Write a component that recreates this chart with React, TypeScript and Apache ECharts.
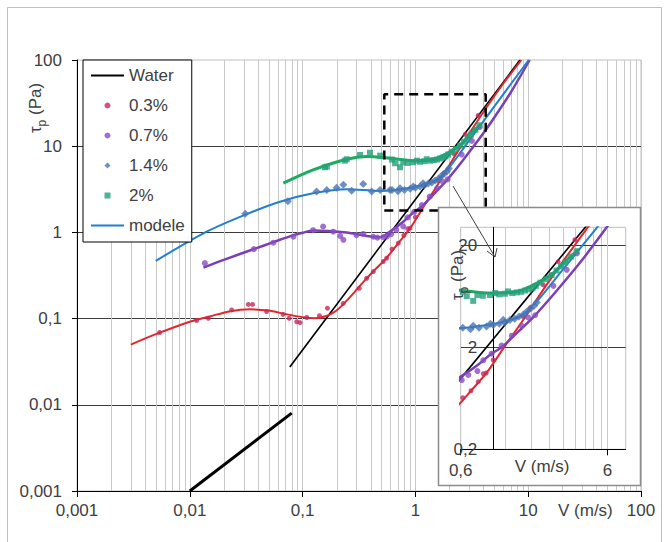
import React, { useEffect, useRef } from 'react';
import * as echarts from 'echarts';

const FONT = '"Liberation Sans", Arial, Helvetica, sans-serif';
const TXT = '#404040';

// ---- main axes ----
const X_MIN = 0.001;
const X_MAX = 100;
const Y_MIN = 0.001;
const Y_MAX = 100;
const xTickLabels = ['0,001', '0,01', '0,1', '1', '10', '100'];
const yTickLabels = ['0,001', '0,01', '0,1', '1', '10', '100'];

// ---- inset axes ----
const insetXTicks = [0.6, 6];
const insetXLabels = ['0,6', '6'];
const INSET_X_MAX = 8;
const insetYTicks = [0.2, 2, 20];
const insetYLabels = ['0,2', '2', '20'];
const INSET_Y_MAX = 30;
const INSET_Y_AXIS_AT = 1;

// ---- water ----
const waterTurbV = [0.077, 8.45];
const waterTurbTau = [0.0274, 100];
const waterLamV = [0.01, 0.08];
const waterLamTau = [0.001, 0.008];

// ---- 0.3 % ----
const mod03V = [0.003, 0.005, 0.01, 0.015, 0.023, 0.034, 0.05, 0.07, 0.1, 0.13, 0.165, 0.2, 0.25, 0.34, 0.42, 0.55, 0.7, 0.9, 1.2, 1.6, 2.2, 3, 4.3, 6, 8.7];
const mod03Tau = [0.05, 0.066, 0.092, 0.106, 0.122, 0.128, 0.124, 0.113, 0.104, 0.101, 0.108, 0.124, 0.165, 0.26, 0.35, 0.5, 0.74, 1.12, 2.05, 3.7, 7.4, 14, 28.5, 53, 100];
const pts03V = [0.0054, 0.0115, 0.0146, 0.0235, 0.033, 0.036, 0.048, 0.067, 0.076, 0.0887, 0.095, 0.109, 0.141, 0.166, 0.229, 0.318, 0.37, 0.424, 0.519, 0.556, 0.62, 0.705, 0.79, 0.855, 0.895, 1.0, 1.6, 1.79, 2.19, 2.77, 3.6];
const pts03Tau = [0.069, 0.095, 0.101, 0.126, 0.146, 0.146, 0.121, 0.112, 0.101, 0.092, 0.09, 0.103, 0.108, 0.132, 0.15, 0.225, 0.294, 0.351, 0.46, 0.502, 0.64, 0.75, 0.92, 1.1, 1.12, 1.5, 4.0, 4.9, 8.2, 13.8, 22.7];

// ---- 0.7 % ----
const mod07V = [0.0132, 0.02, 0.0366, 0.055, 0.077, 0.1, 0.124, 0.17, 0.246, 0.37, 0.486, 0.6, 0.78, 0.957, 1.14, 1.5, 1.89, 2.6, 3.74, 4.94, 7, 10.3];
const mod07Tau = [0.39, 0.48, 0.638, 0.77, 0.9, 0.99, 1.05, 1.04, 0.995, 0.91, 0.88, 1.03, 1.33, 1.7, 2.0, 2.9, 4.0, 6.7, 12.5, 21, 42, 100];
const pts07V = [0.0136, 0.037, 0.055, 0.083, 0.124, 0.152, 0.187, 0.215, 0.23, 0.3, 0.345, 0.424, 0.46, 0.519, 0.56, 0.61, 0.676, 0.78, 0.855, 0.975, 1.14, 1.34, 1.56, 1.73, 1.93, 2.57, 3.17, 3.71];
const pts07Tau = [0.44, 0.64, 0.76, 0.89, 1.06, 1.17, 1.02, 0.91, 0.82, 0.93, 0.96, 0.89, 0.87, 0.88, 0.9, 0.955, 1.07, 1.17, 1.49, 1.73, 2.08, 2.6, 3.25, 3.92, 4.12, 8.0, 11.5, 16.6];

// ---- 1.4 % ----
const mod14V = [0.005, 0.0141, 0.0308, 0.063, 0.124, 0.246, 0.485, 0.957, 1.45, 1.7, 2.0, 2.4, 2.86, 4.33, 6.5, 10.1];
const mod14Tau = [0.468, 1.02, 1.6, 2.27, 2.84, 3.17, 3.03, 3.35, 3.9, 4.5, 5.7, 7.8, 10.7, 22.3, 46, 100];
const pts14V = [0.031, 0.074, 0.133, 0.164, 0.2, 0.23, 0.272, 0.345, 0.41, 0.486, 0.595, 0.62, 0.7, 0.73, 0.8, 0.9, 0.957, 1.0, 1.1, 1.17, 1.2, 1.3, 1.4, 1.5, 1.6, 1.7, 1.8, 1.9, 1.98];
const pts14Tau = [1.65, 2.3, 2.98, 3.11, 3.3, 3.56, 3.05, 3.65, 2.98, 3.11, 3.11, 3.1, 3.0, 3.25, 3.1, 3.2, 3.4, 3.3, 3.4, 3.72, 3.5, 3.7, 3.8, 4.0, 4.2, 4.5, 4.8, 5.1, 5.5];

// ---- 2 % ----
const mod2V = [0.0675, 0.124, 0.246, 0.37, 0.596, 0.957, 1.35, 1.6, 2.08, 2.57, 3.17, 3.8];
const mod2Tau = [3.72, 5.3, 7.06, 7.57, 7.24, 6.8, 6.9, 7.35, 8.8, 10.7, 14.3, 18];
const pts2V = [0.158, 0.164, 0.237, 0.246, 0.323, 0.396, 0.486, 0.62, 0.66, 0.73, 0.78, 0.85, 0.95, 1.03, 1.1, 1.2, 1.26, 1.35, 1.45, 1.55, 1.65, 1.75, 1.85, 1.95, 2.1, 2.3, 2.5, 2.7, 2.9, 3.1, 3.4, 3.7];
const pts2Tau = [5.7, 5.8, 6.8, 7.06, 7.9, 8.4, 7.77, 7.0, 6.34, 5.7, 6.5, 6.4, 6.5, 6.8, 6.6, 6.7, 7.06, 6.8, 6.9, 7.0, 7.2, 7.4, 7.6, 8.0, 8.6, 9.3, 10.2, 11.3, 12.4, 13.6, 15.5, 17.5];

// ---- zoom box on the main chart ----
const zoomBoxV = [0.53, 4.2];
const zoomBoxTau = [1.8, 40];

const LINE_ICON = 'path://M0,0L33,0L33,2L0,2Z';
const DIAMOND_ICON = 'path://M4,0L8,4L4,8L0,4Z';
const SQUARE_ICON = 'path://M0,0L8,0L8,8L0,8Z';
const legendItems = [
  { name: 'Water', icon: LINE_ICON },
  { name: '0.3%', icon: 'circle' },
  { name: '0.7%', icon: 'circle' },
  { name: '1.4%', icon: DIAMOND_ICON },
  { name: '2%', icon: SQUARE_ICON },
  { name: 'modele', icon: LINE_ICON },
];

const pairs = (xs: number[], ys: number[]) => xs.map((x, i) => [x, ys[i]]);
const toInset = (xs: number[], ys: number[]) =>
  xs.map((x, i) => [Math.log10(x / insetXTicks[0]), Math.log10(ys[i] / insetYTicks[0])]);

function buildOption() {
  const MAIN = { left: 77, top: 60, width: 564, height: 431 };
  const INS = { left: 460.7, top: 227.3, width: 165, height: 222 };
  const insXMax = Math.log10(INSET_X_MAX / insetXTicks[0]);
  const insYMax = Math.log10(INSET_Y_MAX / insetYTicks[0]);
  const insYAxisOffset = (INS.width * Math.log10(INSET_Y_AXIS_AT / insetXTicks[0])) / insXMax;

  const mainMinor: number[][] = [];
  for (let e = Math.round(Math.log10(X_MIN)); e < Math.round(Math.log10(X_MAX)); e++) {
    for (let k = 2; k <= 9; k++) mainMinor.push([k * Math.pow(10, e), Y_MIN]);
  }
  const insMinor: number[][] = [];
  for (let k = 2; k <= 9; k++) insMinor.push([Math.log10(k), 0]);

  const labelStyle = { fontSize: 17, color: TXT, fontFamily: FONT };
  const logFmt = (labels: string[], min: number) => (v: number) =>
    labels[Math.round(Math.log10(v)) - Math.round(Math.log10(min))] ?? '';
  const intFmt = (labels: string[]) => (v: number) => {
    const k = Math.round(v);
    return Math.abs(v - k) < 1e-6 ? labels[k] ?? '' : '';
  };

  const line = (name: string, xs: number[], ys: number[], color: string, width: number, idx: number, smooth: number | boolean = false) => ({
    type: 'line',
    name,
    data: idx === 0 ? pairs(xs, ys) : toInset(xs, ys),
    xAxisIndex: idx,
    yAxisIndex: idx,
    symbol: 'none',
    smooth,
    clip: true,
    silent: true,
    lineStyle: { color, width },
    itemStyle: { color },
    z: idx === 0 ? 3 : 13,
    emphasis: { disabled: true },
  });
  const scatter = (name: string, xs: number[], ys: number[], color: string, symbol: string, size: number, idx: number) => ({
    type: 'scatter',
    name,
    data: idx === 0 ? pairs(xs, ys) : toInset(xs, ys),
    xAxisIndex: idx,
    yAxisIndex: idx,
    symbol,
    symbolSize: size,
    clip: true,
    silent: true,
    itemStyle: { color },
    z: idx === 0 ? 4 : 14,
    emphasis: { disabled: true },
  });

  const C = {
    red: '#e3262b', redPt: '#c42a5c',
    pur: '#7b3fb5', purPt: '#8a4cc2',
    blue: '#1f7fd1', bluePt: '#4a76b5',
    green: '#19ad5d', greenPt: '#24a07a',
  };

  const dataSeries = (idx: number) => [
    line('Water', waterTurbV, waterTurbTau, '#000', 1.6, idx),
    line('Water (laminar)', waterLamV, waterLamTau, '#000', 3, idx),
    line('modele 0.3%', mod03V, mod03Tau, C.red, 2, idx, 0.3),
    line('modele 0.7%', mod07V, mod07Tau, C.pur, 2.5, idx, 0.3),
    line('modele', mod14V, mod14Tau, C.blue, 2, idx, 0.3),
    line('modele 2%', mod2V, mod2Tau, C.green, 3, idx, 0.3),
    scatter('0.3%', pts03V, pts03Tau, C.redPt, 'circle', 5, idx),
    scatter('0.7%', pts07V, pts07Tau, C.purPt, 'circle', 6, idx),
    scatter('1.4%', pts14V, pts14Tau, C.bluePt, 'diamond', 8, idx),
    scatter('2%', pts2V, pts2Tau, C.greenPt, 'rect', 6, idx),
  ];

  const minorLine = (idx: number, pts: number[][], yLo: number, yHi: number) => ({
    type: 'custom',
    name: '_grid' + idx,
    xAxisIndex: idx,
    yAxisIndex: idx,
    silent: true,
    z: idx === 0 ? 1 : 11,
    data: pts,
    encode: { x: 0, y: 1 },
    renderItem: (_p: any, api: any) => {
      const v = api.value(0);
      const a = api.coord([v, yLo]);
      const b = api.coord([v, yHi]);
      const x = Math.round(a[0]) + 0.5;
      return {
        type: 'line',
        shape: { x1: x, y1: a[1], x2: x, y2: b[1] },
        style: { stroke: '#c8c8c8', lineWidth: 1 },
      };
    },
  });

  const boxX = [zoomBoxV[0], zoomBoxV[1], zoomBoxV[1], zoomBoxV[0], zoomBoxV[0]];
  const boxY = [zoomBoxTau[0], zoomBoxTau[0], zoomBoxTau[1], zoomBoxTau[1], zoomBoxTau[0]];

  const titleRich = (size: number) => ({
    a: { fontSize: size, fontFamily: FONT, fill: TXT },
    b: { fontSize: Math.round(size * 0.7), fontFamily: FONT, fill: TXT, verticalAlign: 'bottom', padding: [0, 0, -4, 0] },
  });

  return {
    animation: false,
    backgroundColor: '#fff',
    textStyle: { fontFamily: FONT },
    grid: [
      { ...MAIN, show: true, borderColor: '#bfbfbf', borderWidth: 1, z: 0 },
      { ...INS, show: true, borderColor: '#bfbfbf', borderWidth: 1, z: 11 },
    ],
    xAxis: [
      {
        type: 'log', logBase: 10, gridIndex: 0, min: X_MIN, max: X_MAX, z: 1,
        axisLine: { lineStyle: { color: '#000', width: 1 } },
        axisTick: { show: true, length: 6, lineStyle: { color: '#000' } },
        axisLabel: { ...labelStyle, margin: 11, formatter: logFmt(xTickLabels, X_MIN) },
        splitLine: { show: true, lineStyle: { color: '#c8c8c8', width: 1 } },
        name: 'V (m/s)', nameLocation: 'end', nameGap: -83,
        nameTextStyle: { ...labelStyle, align: 'left', verticalAlign: 'top', padding: [11, 0, 0, 0] },
      },
      {
        type: 'value', gridIndex: 1, min: 0, max: insXMax, interval: 1, z: 12,
        axisLine: { onZero: false, lineStyle: { color: '#000', width: 1 } },
        axisTick: { show: true, length: 6, lineStyle: { color: '#000' } },
        axisLabel: { ...labelStyle, margin: 13, showMaxLabel: false, formatter: intFmt(insetXLabels) },
        splitLine: { show: true, showMaxLine: false, lineStyle: { color: '#c8c8c8', width: 1 } },
        name: 'V (m/s)', nameLocation: 'end', nameGap: -111,
        nameTextStyle: { ...labelStyle, align: 'left', verticalAlign: 'top', padding: [9, 0, 0, 0] },
      },
    ],
    yAxis: [
      {
        type: 'log', logBase: 10, gridIndex: 0, min: Y_MIN, max: Y_MAX, z: 1,
        axisLine: { show: true, lineStyle: { color: '#000', width: 1 } },
        axisTick: { show: true, length: 5, lineStyle: { color: '#000' } },
        axisLabel: { ...labelStyle, margin: 15, formatter: logFmt(yTickLabels, Y_MIN) },
        splitLine: { show: true, showMaxLine: false, lineStyle: { color: '#3c3c3c', width: 1 } },
      },
      {
        type: 'value', gridIndex: 1, min: 0, max: insYMax, interval: 1, z: 12,
        offset: -insYAxisOffset,
        axisLine: { show: true, onZero: false, lineStyle: { color: '#000', width: 1 } },
        axisTick: { show: false },
        axisLabel: { ...labelStyle, margin: 16, showMaxLabel: false, formatter: intFmt(insetYLabels) },
        splitLine: { show: true, showMinLine: false, showMaxLine: false, lineStyle: { color: '#3c3c3c', width: 1 } },
      },
    ],
    legend: {
      show: true,
      orient: 'vertical',
      left: 83,
      top: 60,
      padding: [7, 7, 8, 8],
      itemGap: 13,
      itemWidth: 33,
      itemHeight: 6,
      backgroundColor: '#fff',
      borderColor: '#000',
      borderWidth: 1,
      borderRadius: 0,
      z: 6,
      selectedMode: false,
      symbolKeepAspect: true,
      textStyle: { ...labelStyle },
      data: legendItems,
    },
    graphic: [
      { type: 'rect', z: 0, silent: true, shape: { x: 7.5, y: 7.5, width: 654, height: 560 }, style: { fill: 'none', stroke: '#bfbfbf', lineWidth: 1 } },
      { type: 'rect', z: 10, silent: true, shape: { x: 438.5, y: 207.5, width: 202, height: 278 }, style: { fill: '#fff', stroke: '#8c8c8c', lineWidth: 1.5 } },
      { type: 'line', z: 20, silent: true, shape: { x1: 453, y1: 186, x2: 495, y2: 257 }, style: { stroke: '#404040', lineWidth: 1 } },
      { type: 'polyline', z: 20, silent: true, shape: { points: [[487, 251], [495, 257], [497, 248]] }, style: { stroke: '#404040', lineWidth: 1, fill: 'none' } },
      { type: 'text', z: 20, silent: true, x: 35, y: 108, rotation: Math.PI / 2, style: { text: '{a|τ}{b|p}{a| (Pa)}', rich: titleRich(17), align: 'center', verticalAlign: 'middle' } },
      { type: 'text', z: 20, silent: true, x: 457, y: 275, rotation: Math.PI / 2, style: { text: '{a|τ}{b|p}{a| (Pa)}', rich: titleRich(17), align: 'center', verticalAlign: 'middle' } },
    ],
    series: [
      minorLine(0, mainMinor, Y_MIN, Y_MAX),
      ...dataSeries(0),
      {
        type: 'line', name: '_zoombox', xAxisIndex: 0, yAxisIndex: 0, data: pairs(boxX, boxY),
        symbol: 'none', silent: true, z: 5,
        lineStyle: { color: '#000', width: 2.5, type: [9, 6] },
      },
      minorLine(1, insMinor, 0, insYMax),
      ...dataSeries(1),
    ],
  };
}

export default function App() {
  const ref = useRef<HTMLDivElement>(null);
  useEffect(() => {
    if (!ref.current) return;
    const chart = echarts.init(ref.current, null, { renderer: 'svg' });
    chart.setOption(buildOption() as any);
    return () => chart.dispose();
  }, []);
  return (
    <div
      ref={ref}
      style={{ position: 'absolute', left: 0, top: 0, width: 669, height: 542, background: '#fff' }}
    />
  );
}
